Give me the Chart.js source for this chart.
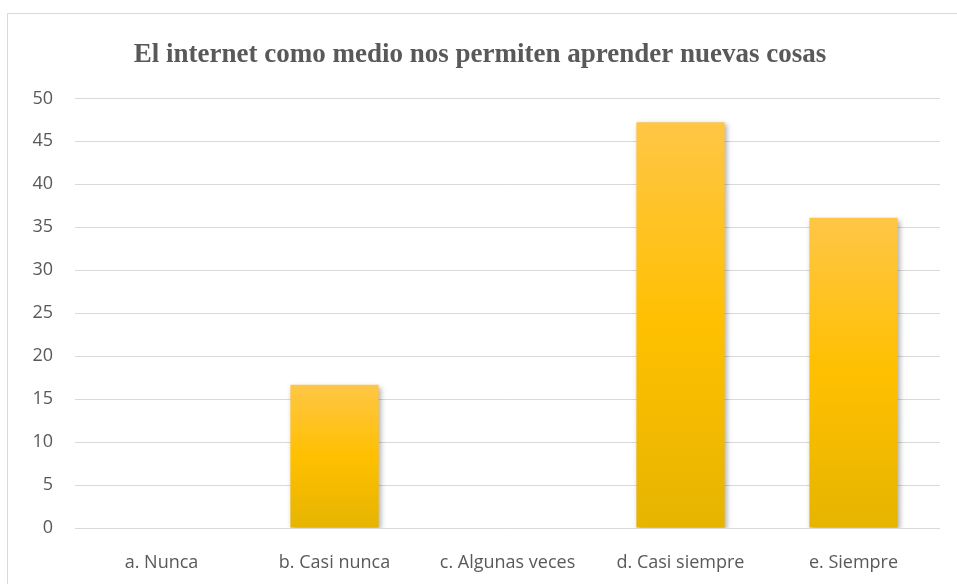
<!DOCTYPE html>
<html>
<head>
<meta charset="utf-8">
<script src="https://cdn.jsdelivr.net/npm/chart.js@4"></script>
<style>
  body { margin: 0; background: #fff; }
  #marco { position: absolute; left: 7px; top: 13px; width: 960px; height: 580px; border: 1px solid #d9d9d9; }
  #lienzo { position: absolute; left: 0; top: 0; }
</style>
</head>
<body>
<div id="marco"></div>
<canvas id="lienzo" width="957" height="584"></canvas>
<script>
const categorias = ["a. Nunca", "b. Casi nunca", "c. Algunas veces", "d. Casi siempre", "e. Siempre"];
const valores = [0, 16.67, 0, 47.22, 36.11];
const titulo = "El internet como medio nos permiten aprender nuevas cosas";
const yMin = 0, yMax = 50, yPaso = 5;

const canvas = document.getElementById("lienzo");
const fuenteEjes = "'Open Sans', Lato, sans-serif";

// degradado por barra, como en Excel
function degradado(ctx) {
  const chart = ctx.chart;
  const y = chart.scales.y;
  if (!chart.chartArea || !y || ctx.raw == null) return "#FFC000";
  const top = y.getPixelForValue(ctx.raw);
  const base = y.getPixelForValue(0);
  if (!isFinite(top) || !isFinite(base) || base - top < 1) return "#FFC000";
  const g = chart.ctx.createLinearGradient(0, top, 0, base);
  g.addColorStop(0, "#FFC646");
  g.addColorStop(0.5, "#FFC000");
  g.addColorStop(1, "#E6B400");
  return g;
}

const sombra = {
  id: "sombra",
  beforeDatasetsDraw(chart) {
    const c = chart.ctx;
    c.save();
    c.shadowColor = "rgba(0,0,0,0.3)";
    c.shadowBlur = 5;
    c.shadowOffsetX = 2;
    c.shadowOffsetY = 2;
  },
  afterDatasetsDraw(chart) {
    chart.ctx.restore();
  }
};

new Chart(canvas, {
  type: "bar",
  data: {
    labels: categorias,
    datasets: [{
      data: valores,
      backgroundColor: degradado,
      borderWidth: 0,
      categoryPercentage: 1,
      barPercentage: 0.51
    }]
  },
  options: {
    responsive: false,
    animation: false,
    layout: { padding: { left: 20, right: 17, top: 0, bottom: 0 } },
    plugins: {
      legend: { display: false },
      tooltip: { enabled: false },
      title: {
        display: true,
        text: titulo,
        color: "#595959",
        font: { family: "'Liberation Serif', 'Times New Roman', serif", size: 27, weight: "bold" },
        padding: { top: 39, bottom: 27 }
      }
    },
    scales: {
      x: {
        afterFit(scale) { scale.height = 56; },
        grid: { display: false, drawTicks: false },
        border: { display: false },
        ticks: { color: "#595959", font: { family: fuenteEjes, size: 18 }, padding: 24, maxRotation: 0, autoSkip: false }
      },
      y: {
        min: yMin,
        max: yMax,
        afterFit(scale) { scale.width = 55; },
        grid: { color: "#d9d9d9", lineWidth: 1, drawTicks: false },
        border: { display: false },
        ticks: { stepSize: yPaso, color: "#595959", font: { family: fuenteEjes, size: 18 }, padding: 22 }
      }
    }
  },
  plugins: [sombra]
});
</script>
</body>
</html>
